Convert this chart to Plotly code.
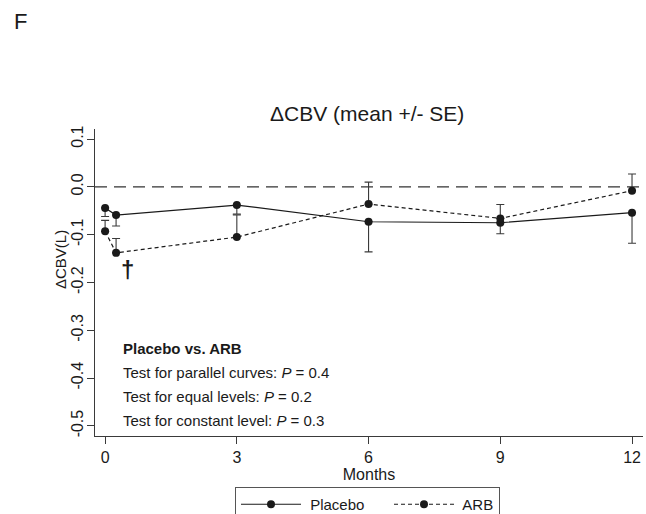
import plotly.graph_objects as go

# ---- data ----
months = [0, 0.25, 3, 6, 9, 12]
placebo_mean = [-0.044, -0.059, -0.038, -0.073, -0.075, -0.054]
placebo_se = [0.018, 0.023, 0.019, 0.063, 0.023, 0.064]
arb_mean = [-0.093, -0.138, -0.105, -0.036, -0.066, -0.008]
arb_se = [0.023, 0.030, 0.046, 0.046, 0.029, 0.035]
x_ticks = [0, 3, 6, 9, 12]
y_ticks = [-0.5, -0.4, -0.3, -0.2, -0.1, 0.0, 0.1]
y_ticktext = ["-0.5", "-0.4", "-0.3", "-0.2", "-0.1", "0.0", "0.1"]
inset_lines = [
    "<b>Placebo vs. ARB</b>",
    "Test for parallel curves: <i>P</i> = 0.4",
    "Test for equal levels: <i>P</i> = 0.2",
    "Test for constant level: <i>P</i> = 0.3",
]

W, H = 646, 514
ML, MR, MT, MB = 95, 3, 129, 78
PW, PH = W - ML - MR, H - MT - MB
FONT = "Liberation Sans, Arial, sans-serif"
INK = "#1a1a1a"
AX = "#3a3a3a"


def px(x):
    return (x - ML) / PW


def py(y):
    return (H - MB - y) / PH


fig = go.Figure()

fig.add_trace(go.Scatter(
    x=months, y=placebo_mean, name=" Placebo", mode="lines+markers",
    legendwidth=78,
    line=dict(color=INK, width=1.2),
    marker=dict(color=INK, size=8),
    error_y=dict(type="data", symmetric=False,
                 array=[0] * len(placebo_se), arrayminus=placebo_se,
                 color=AX, thickness=1.1, width=4),
))
fig.add_trace(go.Scatter(
    x=months, y=arb_mean, name=" ARB", mode="lines+markers",
    line=dict(color=INK, width=1.2, dash="4px,3px"),
    marker=dict(color=INK, size=8),
    error_y=dict(type="data", symmetric=False,
                 array=arb_se, arrayminus=[0] * len(arb_se),
                 color=AX, thickness=1.1, width=4),
))

# zero reference line
fig.add_shape(type="line", xref="x domain", yref="y", x0=0, x1=1, y0=0, y1=0,
              line=dict(color="#333", width=1.4, dash="12px,7px"), layer="below")

ann = []
ann.append(dict(text="F", x=px(20), y=py(21), xref="paper", yref="paper",
                xanchor="center", yanchor="middle",
                showarrow=False, font=dict(family=FONT, size=22, color=INK)))
ann.append(dict(text="ΔCBV (mean +/- SE)", x=px(367), y=py(113), xref="paper", yref="paper",
                xanchor="center", yanchor="middle",
                showarrow=False, font=dict(family=FONT, size=21, color=INK)))
ann.append(dict(text="ΔCBV(L)", x=px(60), y=py(260), xref="paper", yref="paper",
                xanchor="center", yanchor="middle", textangle=-90,
                showarrow=False, font=dict(family=FONT, size=15, color=INK)))
ann.append(dict(text="<b>†</b>", x=0.5, y=-0.172, xref="x", yref="y",
                xanchor="center", yanchor="middle",
                showarrow=False, font=dict(family=FONT, size=24, color=INK)))
for i, t in enumerate(inset_lines):
    ann.append(dict(text=t, x=px(121), y=py(348 + i * 24), xref="paper", yref="paper",
                    xanchor="left", yanchor="middle", showarrow=False,
                    font=dict(family=FONT, size=15, color=INK)))

fig.update_layout(
    width=W, height=H,
    margin=dict(l=ML, r=MR, t=MT, b=MB, pad=0, autoexpand=False),
    paper_bgcolor="white", plot_bgcolor="white",
    font=dict(family=FONT, size=16, color=INK),
    showlegend=True,
    legend=dict(orientation="h", x=px(367.5), xanchor="center", y=py(487), yanchor="top",
                bordercolor="#555", borderwidth=1, bgcolor="white",
                font=dict(family=FONT, size=15, color=INK), itemwidth=60),
    annotations=ann,
    xaxis=dict(range=[-0.23, 12.25], tickvals=x_ticks, showgrid=False, zeroline=False,
               showline=True, linecolor=AX, linewidth=1, ticks="outside", ticklen=7,
               tickcolor=AX, tickfont=dict(size=16), ticklabelstandoff=0,
               title=dict(text="Months", font=dict(size=16), standoff=1)),
    yaxis=dict(range=[-0.521, 0.121], tickvals=y_ticks, ticktext=y_ticktext,
               tickangle=-90, showgrid=False, zeroline=False,
               showline=True, linecolor=AX, linewidth=1, ticks="outside", ticklen=7,
               tickcolor=AX, tickfont=dict(size=16), ticklabelstandoff=-2),
)

fig.write_html("out.html")
